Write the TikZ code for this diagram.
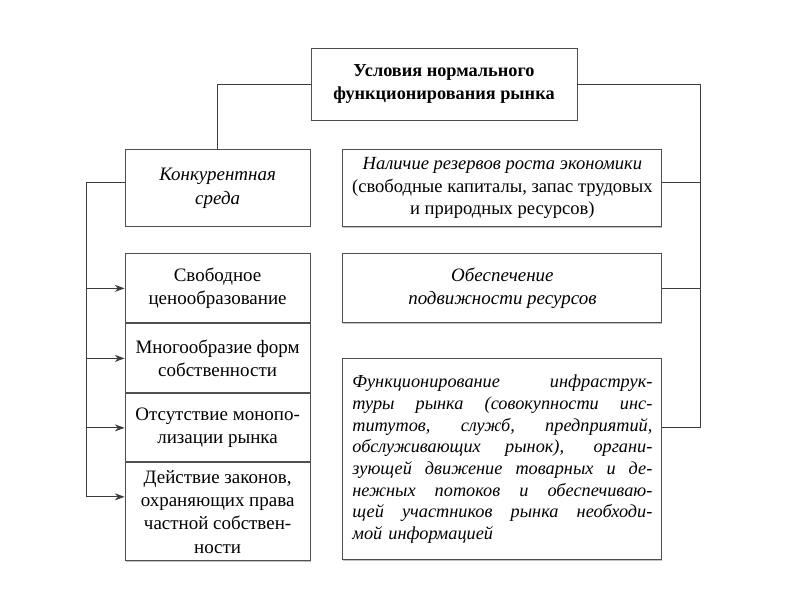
\documentclass[tikz,border=0pt]{standalone}
\usepackage{fontspec}
\setmainfont{Liberation Serif}
\usepackage{xcolor}
\definecolor{framegray}{RGB}{80, 80, 80}
\definecolor{linegray}{RGB}{60, 60, 60}
\usepackage{tikz}
\usetikzlibrary{arrows.meta, positioning, calc, shadows}
\newcommand{\fullline}[1]{\leavevmode\hbox to 7.5cm{\spaceskip=0.25em plus 1fil\relax #1}}

\begin{document}
\begin{tikzpicture}[node distance=0.65cm,
        boxshadow/.style={drop shadow={shadow xshift=0.3pt, shadow yshift=-0.9pt, fill=gray!70, opacity=0.7}},
        head/.style={rectangle, draw=framegray, fill=white, line width=0.7pt, minimum width=6.65cm, minimum height=1.8cm, align=center, font=\fontsize{13}{16}\selectfont\bfseries},
        leftbox/.style={rectangle, draw=framegray, fill=white, line width=0.7pt, minimum width=4.625cm, align=center, inner sep=2pt, font=\fontsize{13.5}{16.5}\selectfont},
        rightbox/.style={rectangle, draw=framegray, fill=white, boxshadow, line width=0.7pt, minimum width=7.975cm, align=center, inner sep=2pt, font=\fontsize{13.2}{16}\selectfont},
        line/.style={draw=linegray, line width=0.7pt},
        arrowline/.style={line, -{Stealth[length=7pt, width=5pt]}}]

        \useasboundingbox (0,0) rectangle (20,15);

        \node [head] (top) at (11.1,12.9) {Условия нормального\\функционирования рынка};

        % left column
        \node [leftbox, minimum height=1.925cm, font=\fontsize{13.5}{16.5}\selectfont\itshape] (konk) at (5.44,10.29) {Конкурентная\\среда};
        \node [leftbox, minimum height=1.725cm, below=0.65cm of konk] (pricing) {Свободное\\ценообразование};
        \node [leftbox, minimum height=1.725cm, below=0pt of pricing] (forms) {Многообразие форм\\собственности};
        \node [leftbox, minimum height=1.7cm, below=0pt of forms] (monopoly) {Отсутствие монопо-\\лизации рынка};
        \node [leftbox, boxshadow, minimum height=2.45cm, below=0pt of monopoly] (laws) {Действие законов,\\охраняющих права\\частной собствен-\\ности};

        % right column
        \node [rightbox, minimum height=1.925cm] (reserves) at (12.56,10.29) {\textit{Наличие резервов роста экономики}\\(свободные капиталы, запас трудовых\\и природных ресурсов)};
        \node [rightbox, minimum height=1.725cm, below=0.65cm of reserves, font=\fontsize{13.5}{16.5}\selectfont\itshape] (mobility) {Обеспечение\\подвижности ресурсов};
        \node [rightbox, minimum height=5.025cm, below=0.875cm of mobility, text width=7.5cm, align=left, font=\fontsize{13}{15.4}\selectfont\itshape] (infra) {\fullline{Функционирование инфраструк-}\\
        \fullline{туры рынка (совокупности инс-}\\
        \fullline{титутов, служб, предприятий,}\\
        \fullline{обслуживающих рынок), органи-}\\
        \fullline{зующей движение товарных и де-}\\
        \fullline{нежных потоков и обеспечиваю-}\\
        \fullline{щей участников рынка необходи-}\\
        мой информацией};

        % connectors
        \coordinate (rspine) at ($(top.east)+(3.075,0)$);
        \coordinate (resjoin) at ([yshift=0.14cm]reserves.east);
        \coordinate (infrajoin) at ([yshift=0.8cm]infra.east);
        \coordinate (konkjoin) at ([yshift=0.14cm]konk.west);
        \coordinate (lspine) at ($(konkjoin)+(-0.95,0)$);
        \coordinate (lawsjoin) at ([yshift=0.375cm]laws.west);

        \path [line] (top.west) -| (konk.north);
        \path [line] (top.east) -- (rspine) |- (infrajoin);
        \path [line] (resjoin) -- (resjoin -| rspine);
        \path [line] (mobility.east) -- (mobility.east -| rspine);

        \path [arrowline] (konkjoin) -- (lspine) |- (lawsjoin);
        \path [arrowline] (lspine |- pricing.west) -- (pricing.west);
        \path [arrowline] (lspine |- forms.west) -- (forms.west);
        \path [arrowline] (lspine |- monopoly.west) -- (monopoly.west);
\end{tikzpicture}
\end{document}
